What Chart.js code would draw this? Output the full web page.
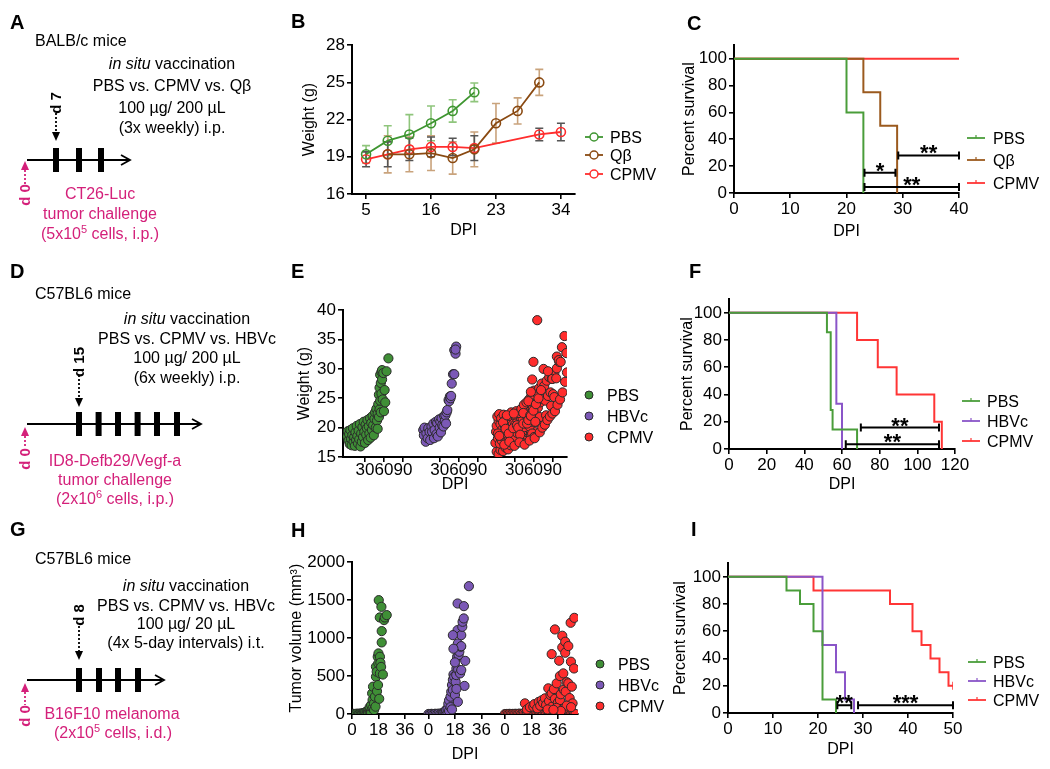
<!DOCTYPE html>
<html>
<head>
<meta charset="utf-8">
<title>Figure</title>
<script src="https://cdn.jsdelivr.net/npm/chart.js@4.4.1/dist/chart.umd.min.js"></script>
<style>
  body { margin: 0; background: #fff; }
  #fig { position: relative; width: 1050px; height: 769px; overflow: hidden; font-family: "Liberation Sans", Arial, sans-serif; }
  #fig canvas { position: absolute; }
  #fig svg { position: absolute; left: 0; top: 0; }
</style>
</head>
<body>
<div id="fig">
  <canvas id="chartB"></canvas>
  <canvas id="chartC"></canvas>
  <canvas id="chartE"></canvas>
  <canvas id="chartF"></canvas>
  <canvas id="chartH"></canvas>
  <canvas id="chartI"></canvas>

  <svg width="1050" height="769" font-family="Liberation Sans, Arial, sans-serif" font-size="16">
    <!-- letras de panel -->
    <g font-size="20" font-weight="bold">
      <text x="10" y="29">A</text><text x="291" y="28">B</text><text x="687" y="30">C</text>
      <text x="10" y="278">D</text><text x="291" y="278">E</text><text x="689" y="278">F</text>
      <text x="10" y="536">G</text><text x="291" y="537">H</text><text x="691" y="536">I</text>
    </g>

    <!-- Panel A -->
    <text x="35" y="46">BALB/c mice</text>
    <g text-anchor="middle">
      <text x="172" y="69"><tspan font-style="italic">in situ</tspan> vaccination</text>
      <text x="172" y="91">PBS vs. CPMV vs. Qβ</text>
      <text x="172" y="113">100 µg/ 200 µL</text>
      <text x="172" y="133">(3x weekly) i.p.</text>
    </g>
    <line x1="27" y1="160" x2="129" y2="160" stroke="#000" stroke-width="1.8"/>
    <polyline points="121,155 130,160 121,165" fill="none" stroke="#000" stroke-width="1.8"/>
    <rect x="53" y="148" width="6" height="24"/><rect x="76" y="148" width="6" height="24"/><rect x="98" y="148" width="6" height="24"/>
    <text transform="translate(61,103) rotate(-90)" text-anchor="middle" font-size="15" font-weight="bold">d 7</text>
    <line x1="56" y1="113" x2="56" y2="132" stroke="#000" stroke-width="1.8" stroke-dasharray="2,2"/>
    <polygon points="52,132 60,132 56,141"/>
    <g fill="#d4207a" stroke="none">
      <polygon points="21,170 29,170 25,161"/>
      <text transform="translate(30,195) rotate(-90)" text-anchor="middle" font-size="15" font-weight="bold">d 0</text>
      <g text-anchor="middle">
        <text x="100" y="199">CT26-Luc</text>
        <text x="100" y="219">tumor challenge</text>
        <text x="100" y="239">(5x10<tspan font-size="11" dy="-6">5</tspan><tspan dy="6"> cells, i.p.)</tspan></text>
      </g>
    </g>
    <line x1="25" y1="170" x2="25" y2="184" stroke="#d4207a" stroke-width="1.8" stroke-dasharray="2,2"/>

    <!-- Panel D -->
    <text x="35" y="299">C57BL6 mice</text>
    <g text-anchor="middle">
      <text x="187" y="324"><tspan font-style="italic">in situ</tspan> vaccination</text>
      <text x="187" y="344">PBS vs. CPMV vs. HBVc</text>
      <text x="187" y="363">100 µg/ 200 µL</text>
      <text x="187" y="383">(6x weekly) i.p.</text>
    </g>
    <line x1="27" y1="424" x2="200" y2="424" stroke="#000" stroke-width="1.8"/>
    <polyline points="192,419 201,424 192,429" fill="none" stroke="#000" stroke-width="1.8"/>
    <rect x="76" y="412" width="6" height="24"/><rect x="95.6" y="412" width="6" height="24"/><rect x="115" y="412" width="6" height="24"/>
    <rect x="134.6" y="412" width="6" height="24"/><rect x="154" y="412" width="6" height="24"/><rect x="174" y="412" width="6" height="24"/>
    <text transform="translate(84,362) rotate(-90)" text-anchor="middle" font-size="15" font-weight="bold">d 15</text>
    <line x1="79" y1="375" x2="79" y2="398" stroke="#000" stroke-width="1.8" stroke-dasharray="2,2"/>
    <polygon points="75,398 83,398 79,407"/>
    <g fill="#d4207a">
      <polygon points="21,436 29,436 25,427"/>
      <text transform="translate(30,459) rotate(-90)" text-anchor="middle" font-size="15" font-weight="bold">d 0</text>
      <g text-anchor="middle">
        <text x="115" y="466">ID8-Defb29/Vegf-a</text>
        <text x="115" y="485">tumor challenge</text>
        <text x="115" y="504">(2x10<tspan font-size="11" dy="-6">6</tspan><tspan dy="6"> cells, i.p.)</tspan></text>
      </g>
    </g>
    <line x1="25" y1="436" x2="25" y2="448" stroke="#d4207a" stroke-width="1.8" stroke-dasharray="2,2"/>

    <!-- Panel G -->
    <text x="35" y="564">C57BL6 mice</text>
    <g text-anchor="middle">
      <text x="186" y="591"><tspan font-style="italic">in situ</tspan> vaccination</text>
      <text x="186" y="611">PBS vs. CPMV vs. HBVc</text>
      <text x="186" y="629">100 µg/ 20 µL</text>
      <text x="186" y="648">(4x 5-day intervals) i.t.</text>
    </g>
    <line x1="27" y1="680" x2="162" y2="680" stroke="#000" stroke-width="1.8"/>
    <polyline points="155,675 164,680 155,685" fill="none" stroke="#000" stroke-width="1.8"/>
    <rect x="76" y="668" width="6" height="24"/><rect x="96" y="668" width="6" height="24"/><rect x="115" y="668" width="6" height="24"/><rect x="135" y="668" width="6" height="24"/>
    <text transform="translate(84,615) rotate(-90)" text-anchor="middle" font-size="15" font-weight="bold">d 8</text>
    <line x1="79" y1="626" x2="79" y2="651" stroke="#000" stroke-width="1.8" stroke-dasharray="2,2"/>
    <polygon points="75,651 83,651 79,660"/>
    <g fill="#d4207a">
      <polygon points="21,692 29,692 25,683"/>
      <text transform="translate(30,716) rotate(-90)" text-anchor="middle" font-size="15" font-weight="bold">d 0</text>
      <g text-anchor="middle">
        <text x="112" y="719">B16F10 melanoma</text>
        <text x="113" y="738">(2x10<tspan font-size="11" dy="-6">5</tspan><tspan dy="6"> cells, i.d.)</tspan></text>
      </g>
    </g>
    <line x1="25" y1="692" x2="25" y2="705" stroke="#d4207a" stroke-width="1.8" stroke-dasharray="2,2"/>

    <!-- leyendas -->
    <g id="legends"></g>
  </svg>
</div>

<script>
const FONT = '"Liberation Sans", Arial, sans-serif';
Chart.defaults.font.family = FONT;
Chart.defaults.color = '#000';
Chart.defaults.animation = false;

// Colores
const GREEN = '#3f9631', BROWN = '#8a4a12', RED = '#ff2d2d', PURPLE = '#7c57b8';

// ---- Panel B: peso corporal (media ± DE)
const bTickPos = [0, 3, 6, 9];
const bTickLabels = ['5', '16', '23', '34'];
const bPbs = [19.2, 20.3, 20.8, 21.7, 22.7, 24.2, null, null, null, null];
const bPbsSd = [0.7, 1.2, 1.6, 1.4, 0.9, 0.75, null, null, null, null];
const bQb = [null, 19.2, 19.2, 19.3, 18.9, 19.6, 21.7, 22.7, 25.0, null];
const bQbSd = [null, 1.5, 1.4, 1.4, 1.3, 1.4, 1.6, 1.05, 1.05, null];
const bCpmv = [18.8, 19.2, 19.6, 19.8, 19.8, 19.7, null, null, 20.8, 21.0];
const bCpmvSd = [0.6, 1.0, 0.9, 0.8, 0.7, 1.0, null, null, 0.5, 0.7];

// ---- Panel C: supervivencia
const cPbsDays = [0, 20, 23], cPbsSurv = [100, 60, 0];
const cQbDays = [0, 23, 26, 29], cQbSurv = [100, 75, 50, 0];
const cCpmvDays = [0, 40], cCpmvSurv = [100, 100];
const cSig = [[23.2, 28.7, 15, '*'], [29.2, 40, 28, '**'], [23.2, 40, 4.5, '**']];

// ---- Panel E: peso por ratón (DPI, g)
const eDays = [30, 60, 90];
const eGroupGap = 118;
const ePbs = [
  [2,18.5],[3,19.4],[4,17.8],[5,18.9],[6,17.2],[7,19.6],[8,18.1],[9,17.0],[10,18.7],[11,19.9],
  [12,17.6],[13,18.4],[14,16.9],[15,19.2],[16,17.9],[17,20.3],[18,18.6],[19,17.3],[20,19.5],[21,18.0],
  [22,20.6],[23,16.8],[24,19.0],[25,17.6],[26,20.1],[27,18.4],[28,21.0],[29,19.3],[30,17.4],[31,20.5],
  [32,18.8],[33,19.9],[34,21.3],[35,17.9],[36,20.2],[37,19.0],[38,21.6],[39,18.3],[40,20.8],[41,19.6],
  [42,22.0],[43,20.4],[44,18.7],[45,21.5],[46,22.6],[47,20.0],[48,23.2],[49,21.2],[50,22.4],[50,19.8],
  [51,24.0],[52,21.8],[52,25.6],[53,23.1],[53,26.8],[54,24.6],[54,29.0],[55,27.6],[55,22.6],[56,29.5],
  [56,25.8],[57,29.8],[57,28.2],[58,24.8],[59,29.3],[60,22.8],[61,26.4],[62,24.3],[64,29.6],[67,31.8]
];
const eHbvc = [
  [4,19.6],[5,18.7],[6,20.0],[8,17.6],[9,19.0],[11,18.2],[12,19.9],[14,19.3],[15,17.9],[17,20.2],
  [18,19.3],[20,20.7],[21,18.2],[22,19.6],[24,21.0],[25,18.9],[26,20.8],[27,18.5],[29,21.4],[30,20.0],
  [31,21.0],[32,19.2],[33,21.6],[34,20.4],[36,20.2],[37,22.0],[38,21.1],[39,22.1],[40,20.7],[41,22.6],
  [42,23.0],[44,24.7],[45,24.5],[46,25.3],[47,25.0],[48,25.4],[49,27.5],[51,29.1],[53,29.1],[53,33.2],
  [55,32.6],[56,33.8],[55,33.3]
];
const eCpmv = [
  [0,17.4],[2,15.9],[5,15.5],[8,16.2],[12,16.0],[16,16.6],[20,16.3],[24,17.0],[28,17.4],[32,17.2],
  [36,17.9],[40,18.3],[44,18.0],[48,18.8],[52,19.1],[56,18.6],[60,19.4],
  [1,19.3],[4,18.2],[7,17.3],[10,17.8],[14,18.3],[18,17.6],[22,18.1],[26,18.7],[30,18.4],[34,19.1],
  [38,19.7],[42,19.3],[46,20.1],[50,20.6],[54,20.2],[58,21.0],[62,21.4],[66,20.9],[70,21.8],
  [2,20.3],[5,21.2],[8,20.6],[11,19.7],[15,20.3],[19,19.6],[23,20.2],[27,20.9],[31,20.5],[35,21.2],
  [39,21.8],[43,21.5],[47,22.3],[51,22.8],[55,22.4],[59,23.3],[63,23.8],[67,23.4],[71,24.3],[75,24.9],
  [79,24.6],[83,25.4],[87,26.0],[91,25.7],
  [3,21.9],[6,22.3],[9,21.6],[13,22.2],[17,21.5],[21,22.0],[25,22.6],[29,22.2],[33,22.8],[37,22.5],
  [41,23.2],[45,23.9],[49,24.3],[53,24.8],[57,25.6],[61,26.3],[65,25.9],[69,26.7],[73,27.5],[77,27.1],
  [81,28.0],[85,28.6],[89,28.3],[93,29.2],[97,30.1],[101,31.2],[105,33.7],[109,35.6],[112,32.7],
  [4,19.0],[12,20.9],[16,19.8],[18,22.1],[21,19.0],[28,19.9],[29,22.4],[34,20.4],[36,20.0],[39,18.8],
  [44,20.7],[44,22.5],[50,20.7],[52,21.3],[52,24.5],[55,22.1],[56,22.0],[56,26.1],[58,19.0],[58,28.2],
  [60,22.9],[60,31.2],[61,18.4],[63,21.0],[64,24.0],[66,38.3],[68,25.0],[72,26.4],[76,30.0],[80,22.1],
  [83,29.6],[88,23.7],[90,28.3],[93,25.2],[96,28.4],[97,32.1],[100,31.5],[103,31.2],
  [6,18.6],[14,17.1],[22,17.6],[30,16.9],[38,17.5],[46,17.1],[54,17.8],[62,18.2],[70,19.2],[74,20.0],
  [78,20.5],[82,21.3],[86,21.9],[90,22.4],[94,22.8],[98,23.9],[102,24.8],[106,26.0],[110,27.8],[113,29.4]
];

// ---- Panel F: supervivencia
const fPbsDays = [0, 52, 54, 55, 68], fPbsSurv = [100, 85.7, 28.6, 14.3, 0];
const fHbvcDays = [0, 57, 60], fHbvcSurv = [100, 33.3, 0];
const fCpmvDays = [0, 68, 79, 89, 109, 113], fCpmvSurv = [100, 80, 60, 40, 20, 0];
const fSig = [[70, 111.5, 15.7, '**'], [62, 111.5, 3.4, '**']];

// ---- Panel H: volumen tumoral (DPI, mm3)
const hDays = [0, 18, 36];
const hGroupGap = 52;
const hPbs = [
  [0,0],[1,2],[2,0],[3,4],[4,1],[5,6],[5,0],[6,3],[7,9],[7,2],[8,5],[8,14],[9,8],[9,22],[10,12],
  [10,35],[10,4],[11,18],[11,48],[11,8],[12,26],[12,62],[12,90],[13,40],[13,118],[13,15],[13.7,272],
  [14,75],[14,184],[14.3,360],[15,140],[15,52],[15.6,228],[16,97],[16.3,491],[16.3,623],[16.8,557],
  [17,300],[17.5,754],[17.7,382],[17.9,667],[18,798],[18.2,1500],[18.5,200],[19,535],[19,754],
  [19.3,675],[18.9,1272],[20,1412],[20.2,943],[20.2,1092],[21.8,1237],[22.3,1272],[23.6,1303],
  [19.8,620],[21,520]
];
const hHbvc = [
  [0,0],[1,0],[2,2],[3,0],[4,1],[5,3],[6,0],[7,5],[8,2],[9,8],[10,4],[10,15],[11,10],[11,30],
  [12,20],[12,55],[13,12],[13,70],[13.5,136],[14,40],[14,180],[15,90],[15,228],[15.5,294],[16,60],
  [16,382],[16.6,316],[16.6,450],[17,520],[17.5,491],[18,250],[18.5,425],[18.9,513],[19,600],
  [19.5,754],[19.8,1105],[19.8,1456],[20,930],[20,160],[20.5,776],[20.2,588],[21,820],[21.5,535],
  [22,886],[22.3,579],[22.3,1039],[22.3,894],[23,1149],[23.2,1215],[24,1259],[24.1,1421],[24.5,370],
  [25,700],[27.5,1684],[16.6,1039],[17,860],[18,680],[19,330]
];
const hCpmv = [
  [0,0],[1,0],[2,0],[3,2],[4,0],[5,1],[6,0],[7,3],[8,0],[9,2],[10,5],[11,0],[12,4],[13,8],[14,0],
  [15,10],[16,3],[17,15],[18,6],[19,20],[20,2],[21,12],[22,0],[23,25],[24,5],[25,18],[26,0],[27,30],
  [28,8],[29,22],[30,0],[31,40],[32,10],[33,3],[34,0],[35,15],[36,0],[37,6],[38,0],[39,12],[40,0],
  [41,4],[42,0],[43,8],[44,0],[45,3],[46,0],[47,0],[48,0],
  [13.6,140],[15,60],[17,90],[19.3,97],[20,130],[22,75],[23,160],[24,110],[25,180],[26,145],
  [27.2,206],[28,120],[29.5,338],[30,170],[31,250],[31.8,272],[31.8,789],[32,95],[33.3,329],[34,1114],
  [34,200],[35.2,404],[36,150],[36.9,702],[37.4,500],[37.4,184],[38,260],[39,1031],[39,877],[39.7,535],
  [40,320],[41,952],[41,807],[41.3,294],[42,420],[43.1,895],[43.1,404],[44,210],[44.7,1202],[44.9,689],
  [45.5,360],[46,140],[47.2,1267],[47,600],[29,60],[35,80],[40,70],[42,110],[45,90],[38,40],[33,55]
];

// ---- Panel I: supervivencia
const iPbsDays = [0, 13, 16, 19, 21, 24], iPbsSurv = [100, 90, 80, 60, 10, 0];
const iHbvcDays = [0, 21, 24, 26, 28], iHbvcSurv = [100, 50, 30, 10, 0];
const iCpmvDays = [0, 19, 36, 41, 43, 45, 47, 49, 50], iCpmvSurv = [100, 90, 80, 60, 50, 40, 30, 20, 20];
const iSig = [[24.3, 27.4, 5.6, '**'], [28.9, 50, 5.6, '***']];

// ---------------------------------------------------------------
const PAD_T = 12, PAD_R = 22;

// Barras de error (media ± DE) dibujadas con las escalas del gráfico
const errorBars = {
  id: 'errorBars',
  beforeDatasetsDraw(chart) {
    const { ctx, scales: { x, y } } = chart;
    chart.data.datasets.forEach(ds => {
      if (!ds.sd) return;
      ctx.save();
      ctx.strokeStyle = ds.barColor;
      ctx.lineWidth = 1.6;
      ds.data.forEach((p, i) => {
        const s = ds.sd[i];
        if (p.y == null || s == null) return;
        const px = x.getPixelForValue(p.x);
        const top = y.getPixelForValue(p.y + s), bot = y.getPixelForValue(p.y - s);
        ctx.beginPath();
        ctx.moveTo(px, top); ctx.lineTo(px, bot);
        ctx.moveTo(px - 4, top); ctx.lineTo(px + 4, top);
        ctx.moveTo(px - 4, bot); ctx.lineTo(px + 4, bot);
        ctx.stroke();
      });
      ctx.restore();
    });
  }
};

// Corchetes de significancia
const sigBars = {
  id: 'sigBars',
  afterDatasetsDraw(chart, args, opts) {
    if (!opts.bars) return;
    const { ctx, scales: { x, y } } = chart;
    ctx.save();
    ctx.strokeStyle = '#000'; ctx.fillStyle = '#000'; ctx.lineWidth = 2;
    ctx.font = 'bold 22px ' + FONT;
    ctx.textAlign = 'center'; ctx.textBaseline = 'alphabetic';
    opts.bars.forEach(([x1, x2, yv, label]) => {
      const a = x.getPixelForValue(x1), b = x.getPixelForValue(x2), py = y.getPixelForValue(yv);
      ctx.beginPath();
      ctx.moveTo(a, py); ctx.lineTo(b, py);
      ctx.moveTo(a, py - 4); ctx.lineTo(a, py + 4);
      ctx.moveTo(b, py - 4); ctx.lineTo(b, py + 4);
      ctx.stroke();
      ctx.fillText(label, (a + b) / 2, py + 5);
    });
    ctx.restore();
  }
};

function axes(g) {
  return {
    x: {
      type: 'linear', min: g.xMin, max: g.xMax,
      afterBuildTicks: s => { s.ticks = g.xTicks.map(v => ({ value: v })); },
      afterFit: s => { s.height = g.hx; },
      grid: { drawOnChartArea: false, drawTicks: true, tickLength: 5, color: '#000', lineWidth: 1.6 },
      border: { color: '#000', width: 2 },
      ticks: {
        font: { size: 17 }, padding: g.xTickPad ?? 1, autoSkip: false, maxRotation: 0, minRotation: 0,
        callback: (v, i) => g.xLabels ? g.xLabels[i] : String(v)
      },
      title: { display: true, text: 'DPI', font: { size: 16 }, padding: { top: 0, bottom: g.xTitlePad } }
    },
    y: {
      type: 'linear', min: g.yMin, max: g.yMax,
      afterBuildTicks: s => { s.ticks = g.yTicks.map(v => ({ value: v })); },
      afterFit: s => { s.width = g.wy; },
      grid: { drawOnChartArea: false, drawTicks: true, tickLength: 5, color: '#000', lineWidth: 1.6 },
      border: { color: '#000', width: 2 },
      ticks: { font: { size: 17 }, padding: 2, callback: v => String(v) },
      title: { display: true, text: g.yTitle, font: { size: 16 }, padding: { top: g.yTitlePad, bottom: 0 } }
    }
  };
}

// Coloca el canvas para que el área del gráfico caiga en L,T,R,B (px de página)
function makeChart(id, g, datasets, extra) {
  const c = document.getElementById(id);
  const left = Math.round(g.L - g.wy), top = Math.round(g.T - PAD_T);
  c.style.left = left + 'px';
  c.style.top = top + 'px';
  c.width = Math.round(g.R + PAD_R) - left;
  c.height = Math.round(g.B + g.hx) - top;
  g.yTitlePad = g.yTitleX - left - 9.6;
  g.xTitlePad = (top + c.height) - 9.6 - g.xTitleY;
  return new Chart(c, {
    type: 'line',
    data: { datasets },
    options: {
      responsive: false,
      layout: { padding: { top: PAD_T, right: PAD_R, left: 0, bottom: 0 } },
      plugins: { legend: { display: false }, tooltip: { enabled: false }, sigBars: { bars: extra } },
      scales: axes(g)
    },
    plugins: [errorBars, sigBars]
  });
}

const toXY = arr => arr.map((v, i) => ({ x: i, y: v }));
const km = (days, surv) => days.map((d, i) => ({ x: d, y: surv[i] }));
const grouped = (pairs, k, gap) => pairs.map(([d, v]) => ({ x: d + k * gap, y: v }));

function weightLine(label, vals, sd, color, barColor, span) {
  return {
    label, data: toXY(vals), sd, barColor,
    borderColor: color, borderWidth: 1.8, spanGaps: span,
    pointStyle: 'circle', pointRadius: 4.5, pointBorderWidth: 1.6,
    pointBorderColor: color, pointBackgroundColor: 'rgba(255,255,255,0)'
  };
}
function survLine(label, days, surv, color, censorLast) {
  return {
    label, data: km(days, surv), stepped: true,
    borderColor: color, borderWidth: 2, fill: false,
    pointStyle: 'line', rotation: 90, borderCapStyle: 'butt',
    pointRadius: days.map((_, i) => (censorLast && i === days.length - 1) ? 4 : 0),
    pointBorderColor: color, pointBorderWidth: 1.5
  };
}
function dots(label, data, color) {
  return {
    label, data, showLine: false,
    pointRadius: 4.6, pointBorderWidth: 1, pointBorderColor: '#2a2a2a', pointBackgroundColor: color
  };
}

// B
makeChart('chartB', {
  L: 352, R: 575, T: 45, B: 194, wy: 60, hx: 49, yTitleX: 310, xTitleY: 231,
  xMin: -0.65, xMax: 9.65, xTicks: bTickPos, xLabels: bTickLabels,
  yMin: 16, yMax: 28, yTicks: [16, 19, 22, 25, 28], yTitle: 'Weight (g)'
}, [
  weightLine('PBS', bPbs, bPbsSd, GREEN, '#8fc57c', false),
  weightLine('Qβ', bQb, bQbSd, BROWN, '#c9a37c', false),
  weightLine('CPMV', bCpmv, bCpmvSd, RED, '#555555', true)
]);

// C
makeChart('chartC', {
  L: 734, R: 959, T: 44.5, B: 193, wy: 60, hx: 51, yTitleX: 690, xTitleY: 232,
  xMin: 0, xMax: 40, xTicks: [0, 10, 20, 30, 40],
  yMin: 0, yMax: 110, yTicks: [0, 20, 40, 60, 80, 100], yTitle: 'Percent survival'
}, [
  survLine('PBS', cPbsDays, cPbsSurv, '#4a9d3a'),
  survLine('Qβ', cQbDays, cQbSurv, '#9b5a1e'),
  survLine('CPMV', cCpmvDays, cCpmvSurv, '#ff3535')
], cSig);

// E
const eTicks = [0, 1, 2].flatMap(k => eDays.map(d => d + k * eGroupGap));
makeChart('chartE', {
  L: 343, R: 567, T: 310, B: 457, wy: 60, hx: 40, yTitleX: 305, xTitleY: 485, xTickPad: -2,
  xMin: -4.7, xMax: 349, xTicks: eTicks, xLabels: eTicks.map((_, i) => String(eDays[i % 3])),
  yMin: 15, yMax: 40, yTicks: [15, 20, 25, 30, 35, 40], yTitle: 'Weight (g)'
}, [
  dots('PBS', grouped(ePbs, 0, eGroupGap), '#3f8f36'),
  dots('HBVc', grouped(eHbvc, 1, eGroupGap), '#7b58b6'),
  dots('CPMV', grouped(eCpmv, 2, eGroupGap), '#ff2d2d')
]);

// F
makeChart('chartF', {
  L: 729, R: 955, T: 299.4, B: 449, wy: 60, hx: 48, yTitleX: 688, xTitleY: 485,
  xMin: 0, xMax: 120, xTicks: [0, 20, 40, 60, 80, 100, 120],
  yMin: 0, yMax: 110, yTicks: [0, 20, 40, 60, 80, 100], yTitle: 'Percent survival'
}, [
  survLine('PBS', fPbsDays, fPbsSurv, '#4a9d3a'),
  survLine('HBVc', fHbvcDays, fHbvcSurv, '#8a55c8'),
  survLine('CPMV', fCpmvDays, fCpmvSurv, '#ff3535')
], fSig);

// H
const hTicks = [0, 1, 2].flatMap(k => hDays.map(d => d + k * hGroupGap));
makeChart('chartH', {
  L: 352, R: 578, T: 562, B: 714, wy: 75, hx: 53, yTitleX: 297, xTitleY: 755,
  xMin: 0, xMax: 153.7, xTicks: hTicks, xLabels: hTicks.map((_, i) => String(hDays[i % 3])),
  yMin: 0, yMax: 2000, yTicks: [0, 500, 1000, 1500, 2000], yTitle: 'Tumor volume (mm³)'
}, [
  dots('PBS', grouped(hPbs, 0, hGroupGap), '#3f8f36'),
  dots('HBVc', grouped(hHbvc, 1, hGroupGap), '#7b58b6'),
  dots('CPMV', grouped(hCpmv, 2, hGroupGap), '#ff2d2d')
]);

// I
makeChart('chartI', {
  L: 728, R: 953.3, T: 563, B: 713.3, wy: 60, hx: 49, yTitleX: 681, xTitleY: 750,
  xMin: 0, xMax: 50, xTicks: [0, 10, 20, 30, 40, 50],
  yMin: 0, yMax: 110, yTicks: [0, 20, 40, 60, 80, 100], yTitle: 'Percent survival'
}, [
  survLine('PBS', iPbsDays, iPbsSurv, '#4a9d3a'),
  survLine('HBVc', iHbvcDays, iHbvcSurv, '#8a55c8'),
  survLine('CPMV', iCpmvDays, iCpmvSurv, '#ff3535', true)
], iSig);

// ---- Leyendas (SVG)
const NS = 'http://www.w3.org/2000/svg';
const legendRoot = document.getElementById('legends');
function el(tag, attrs, text) {
  const e = document.createElementNS(NS, tag);
  for (const k in attrs) e.setAttribute(k, attrs[k]);
  if (text) e.textContent = text;
  legendRoot.appendChild(e);
  return e;
}
// tipo: 'lineCircle', 'dot', 'km'
function legend(kind, x0, textX, ys, names, colors) {
  names.forEach((name, i) => {
    const y = ys[i], c = colors[i];
    if (kind === 'dot') {
      el('circle', { cx: x0 + 9, cy: y, r: 4, fill: c, stroke: '#2a2a2a', 'stroke-width': 1 });
    } else {
      el('line', { x1: x0, y1: y, x2: x0 + 18, y2: y, stroke: c, 'stroke-width': 1.8 });
      if (kind === 'lineCircle') {
        el('circle', { cx: x0 + 9, cy: y, r: 4, fill: '#fff', stroke: c, 'stroke-width': 1.5 });
      } else {
        el('line', { x1: x0 + 9, y1: y - 3, x2: x0 + 9, y2: y, stroke: c, 'stroke-width': 1.2 });
      }
    }
    el('text', { x: textX, y: y + 6, 'font-size': 16 }, name);
  });
}
legend('lineCircle', 585, 610, [137, 155, 174], ['PBS', 'Qβ', 'CPMV'], [GREEN, BROWN, RED]);
legend('km', 967, 993, [138, 160, 183], ['PBS', 'Qβ', 'CPMV'], ['#4a9d3a', '#9b5a1e', '#ff3535']);
legend('dot', 580, 607, [395, 416, 437], ['PBS', 'HBVc', 'CPMV'], ['#3f8f36', '#7b58b6', '#ff2d2d']);
legend('km', 962, 987, [401, 421, 441], ['PBS', 'HBVc', 'CPMV'], ['#4a9d3a', '#8a55c8', '#ff3535']);
legend('dot', 591, 618, [664, 685, 706], ['PBS', 'HBVc', 'CPMV'], ['#3f8f36', '#7b58b6', '#ff2d2d']);
legend('km', 968, 993, [662, 681, 700], ['PBS', 'HBVc', 'CPMV'], ['#4a9d3a', '#8a55c8', '#ff3535']);
</script>
</body>
</html>
